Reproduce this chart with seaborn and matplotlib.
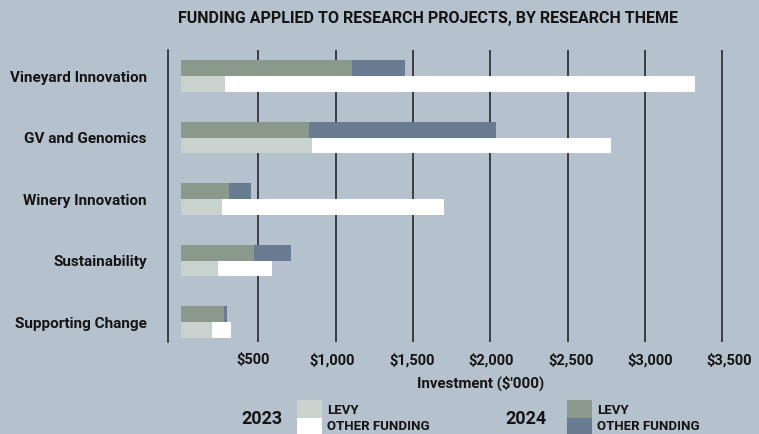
import matplotlib
matplotlib.use("Agg")
import matplotlib.pyplot as plt
from matplotlib.patches import Rectangle
import seaborn as sns
import pandas as pd

# ---- data ($'000) ----
categories = ["Vineyard Innovation", "GV and Genomics", "Winery Innovation",
              "Sustainability", "Supporting Change"]
levy_2023 = [285, 845, 265, 240, 200]
other_2023 = [3040, 1935, 1435, 350, 125]
levy_2024 = [1105, 830, 310, 470, 280]
other_2024 = [345, 1210, 145, 240, 20]
years = ["2024", "2023"]
xticks = [500, 1000, 1500, 2000, 2500, 3000, 3500]
xticklabels = ["$500", "$1,000", "$1,500", "$2,000", "$2,500", "$3,000", "$3,500"]

BG = "#b5c1cd"
C_LEVY24 = "#8a998c"
C_OTH24 = "#687b90"
C_LEVY23 = "#c9d3ce"
C_OTH23 = "#ffffff"
GRID = "#1a1a1a"
TXT = "#141414"

rows = []
for i, c in enumerate(categories):
    rows.append({"category": c, "year": "2024", "levy": levy_2024[i],
                 "total": levy_2024[i] + other_2024[i]})
    rows.append({"category": c, "year": "2023", "levy": levy_2023[i],
                 "total": levy_2023[i] + other_2023[i]})
df = pd.DataFrame(rows)

sns.set_theme(style="white")
plt.rcParams["font.family"] = ["Roboto", "DejaVu Sans"]

fig = plt.figure(figsize=(7.59, 4.34), dpi=100, facecolor=BG)
ax = fig.add_axes([0.2209, 0.2120, 0.7613, 0.6728])
ax.set_facecolor(BG)

sns.barplot(data=df, y="category", x="total", hue="year", hue_order=years,
            order=categories, palette={"2024": C_OTH24, "2023": C_OTH23},
            width=0.51, orient="h", errorbar=None, legend=False,
            linewidth=0, saturation=1, ax=ax, zorder=2)
sns.barplot(data=df, y="category", x="levy", hue="year", hue_order=years,
            order=categories, palette={"2024": C_LEVY24, "2023": C_LEVY23},
            width=0.51, orient="h", errorbar=None, legend=False,
            linewidth=0, saturation=1, ax=ax, zorder=3)

ax.set_xlim(-86, 3650)
ax.set_ylim(4.325, -0.423)
ax.set_xticks(xticks)
ax.grid(axis="x", color=GRID, linewidth=1.1)
ax.grid(axis="y", visible=False)
ax.set_axisbelow(True)
for s in ["top", "right", "bottom"]:
    ax.spines[s].set_visible(False)
ax.spines["left"].set_color(GRID)
ax.spines["left"].set_linewidth(1.1)
ax.tick_params(axis="x", length=0, labelbottom=False)
ax.tick_params(axis="y", length=0, pad=15, labelsize=11, labelcolor=TXT)
for t in ax.get_yticklabels():
    t.set_fontweight("bold")
ax.set_xlabel("")
ax.set_ylabel("")

# tick labels on a slightly wider label scale (as in the original graphic)
def fwd(p):
    return 500 + (p * 0.15467 - 71.9) / 0.15889

def inv(s):
    return ((s - 500) * 0.15889 + 71.9) / 0.15467

sec = ax.secondary_xaxis("bottom", functions=(fwd, inv))
sec.set_xticks(xticks)
sec.set_xticklabels(xticklabels)
sec.tick_params(length=0, pad=8, labelsize=10.5, labelcolor=TXT)
for t in sec.get_xticklabels():
    t.set_fontweight("bold")
sec.spines["bottom"].set_visible(False)

W, H = 759, 434
def fx(px):
    return px / W
def fy(py):
    return 1 - py / H

fig.text(fx(428), fy(18), "FUNDING APPLIED TO RESEARCH PROJECTS, BY RESEARCH THEME",
         ha="center", va="center", fontsize=11.5, fontweight="bold", color=TXT)
fig.text(fx(481), fy(383), "Investment ($'000)", ha="center", va="center",
         fontsize=10.8, fontweight="bold", color=TXT)

# legend
for (label, xt, xs, cl, co) in [("2023", 261.5, 297, C_LEVY23, C_OTH23),
                                ("2024", 525.7, 567, C_LEVY24, C_OTH24)]:
    fig.text(fx(xt), fy(419), label, ha="center", va="center", fontsize=13,
             fontweight="bold", color=TXT)
    fig.patches.append(Rectangle((fx(xs), fy(418)), 25 / W, 18 / H,
                                 transform=fig.transFigure, facecolor=cl,
                                 edgecolor="none"))
    fig.patches.append(Rectangle((fx(xs), fy(436)), 25 / W, 18 / H,
                                 transform=fig.transFigure, facecolor=co,
                                 edgecolor="none"))
    fig.text(fx(xs + 30), fy(410), "LEVY", ha="left", va="center", fontsize=9.5,
             fontweight="bold", color=TXT)
    fig.text(fx(xs + 30), fy(426), "OTHER FUNDING", ha="left", va="center",
             fontsize=9.5, fontweight="bold", color=TXT)

fig.savefig("out.png", dpi=100, facecolor=BG)
